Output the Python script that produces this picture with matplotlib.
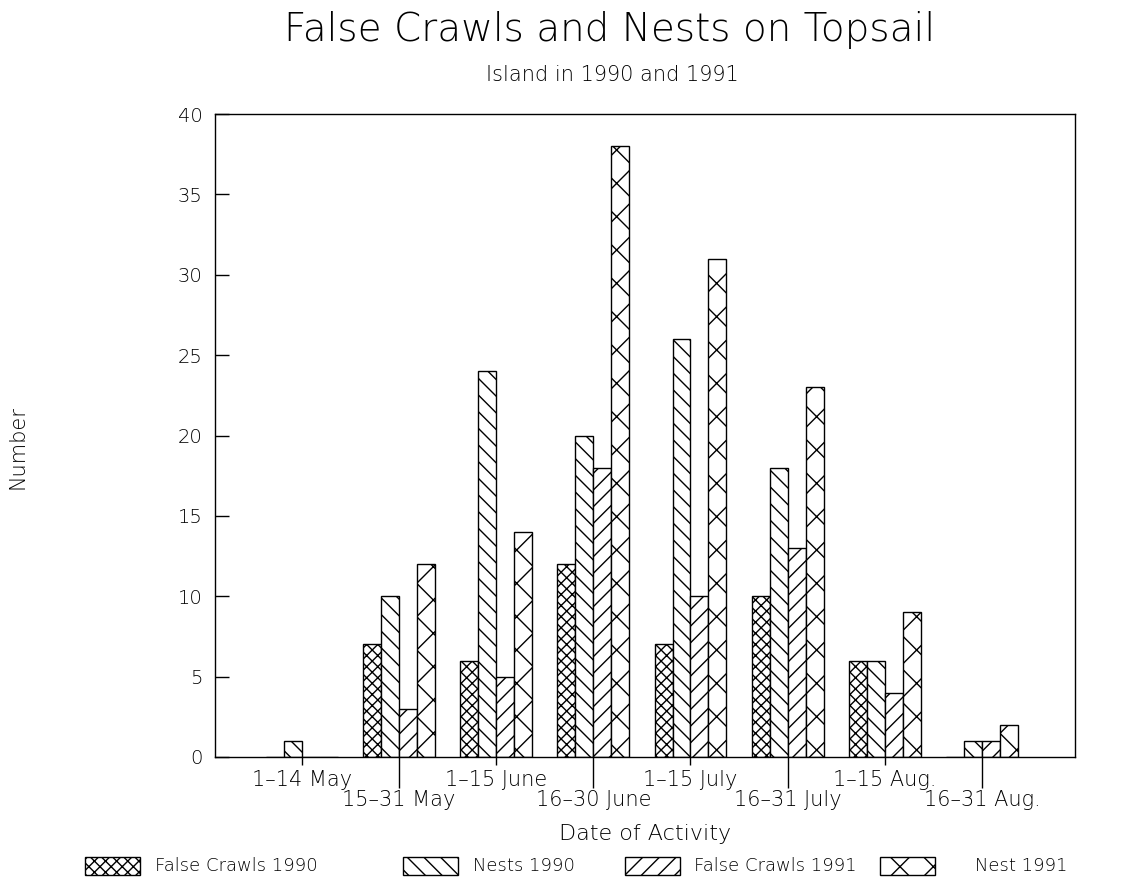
import matplotlib
matplotlib.use("Agg")
import matplotlib.pyplot as plt
from matplotlib.patches import Rectangle
import numpy as np

# Survey periods and counts per period
periods = ["1–14 May", "15–31 May", "1–15 June", "16–30 June",
           "1–15 July", "16–31 July", "1–15 Aug.", "16–31 Aug."]
false_crawls_1990 = [0, 7, 6, 12, 7, 10, 6, 0]
nests_1990 = [1, 10, 24, 20, 26, 18, 6, 1]
false_crawls_1991 = [0, 3, 5, 18, 10, 13, 4, 1]
nests_1991 = [0, 12, 14, 38, 31, 23, 9, 2]

series = [
    ("False Crawls 1990", false_crawls_1990, "xxx"),
    ("Nests 1990", nests_1990, "\\\\"),
    ("False Crawls 1991", false_crawls_1991, "//"),
    ("Nest 1991", nests_1991, "x"),
]

plt.rcParams["font.family"] = ["DejaVu Sans"]
plt.rcParams["font.weight"] = "light"
plt.rcParams["axes.labelweight"] = "light"
plt.rcParams["hatch.linewidth"] = 1.0
plt.rcParams["hatch.color"] = "black"

fig = plt.figure(figsize=(11.24, 8.89), dpi=100)
ax = fig.add_axes([215 / 1124, 1 - 757 / 889, (1075 - 215) / 1124, (757 - 114) / 889])

x = np.arange(len(periods))
w = 0.185
offsets = [-1.5 * w, -0.5 * w, 0.5 * w, 1.5 * w]
for (name, vals, hatch), off in zip(series, offsets):
    ax.bar(x + off, vals, width=w, facecolor="white", edgecolor="black",
           hatch=hatch, linewidth=1.0)

ax.set_xlim(-0.893, 7.957)
ax.set_ylim(0, 40)
ax.set_yticks(np.arange(0, 41, 5))
ax.tick_params(axis="y", direction="in", length=10, width=1.0, pad=9,
               labelsize=14, right=False)

# alternate period labels: short ticks with upper labels, long ticks with lower labels
ax.set_xticks(x[0::2], periods[0::2])
ax.set_xticks(x[1::2], periods[1::2], minor=True)
ax.tick_params(axis="x", which="major", direction="out", length=6, width=1.0,
               pad=3, labelsize=15)
ax.tick_params(axis="x", which="minor", direction="out", length=22, width=1.0,
               pad=2, labelsize=15)
for s in ax.spines.values():
    s.set_linewidth(1.0)

ax.set_xlabel("Date of Activity", fontsize=16, labelpad=10, fontweight="light")
fig.text(17 / 1124, 1 - 447 / 889, "Number", rotation=90, fontsize=15,
         ha="center", va="center")

fig.text(610 / 1124, 1 - 30 / 889, "False Crawls and Nests on Topsail",
         fontsize=28, ha="center", va="center")
fig.text(612 / 1124, 1 - 75 / 889, "Island in 1990 and 1991",
         fontsize=15, ha="center", va="center")

# legend row
legend_boxes = [85, 403, 625, 880]
text_gap = [15, 15, 14, 40]
for (name, vals, hatch), bx, gap in zip(series, legend_boxes, text_gap):
    fig.add_artist(Rectangle((bx / 1124, 1 - 875 / 889), 55 / 1124, 18 / 889,
                             transform=fig.transFigure, facecolor="white",
                             edgecolor="black", hatch=hatch, linewidth=1.0))
    fig.text((bx + 55 + gap) / 1124, 1 - 866 / 889, name, fontsize=13,
             ha="left", va="center")

fig.savefig("out.png", dpi=100, facecolor="white")
